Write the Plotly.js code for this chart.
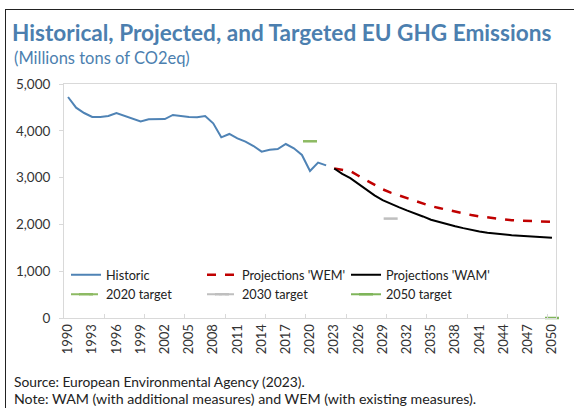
<!DOCTYPE html>
<html>
<head>
<meta charset="utf-8">
<script src="https://cdn.plot.ly/plotly-3.0.1.min.js"></script>
<style>
  html, body { margin: 0; padding: 0; background: #fff; overflow: hidden; }
  #chart { position: absolute; left: 0; top: 0; width: 574px; height: 408px; }
  #frame { position: absolute; left: 5px; top: 9px; width: 620px; height: 480px; border: 1.5px solid #222; pointer-events: none; }
</style>
</head>
<body>
<div id="chart"></div>
<div id="frame"></div>
<script>
// Category labels (years)
const years = ['1990','1991','1992','1993','1994','1995','1996','1997','1998','1999',
  '2000','2001','2002','2003','2004','2005','2006','2007','2008','2009',
  '2010','2011','2012','2013','2014','2015','2016','2017','2018','2019',
  '2020','2021','2022','2023','2024','2025','2026','2027','2028','2029',
  '2030','2031','2032','2033','2034','2035','2036','2037','2038','2039',
  '2040','2041','2042','2043','2044','2045','2046','2047','2048','2049','2050'];

// Historic emissions 1990-2022 (Mt CO2eq)
const historicYears = years.slice(0, 33);
const historic = [4722, 4494, 4380, 4295, 4295, 4316, 4380, 4320, 4270, 4202,
  4245, 4245, 4250, 4338, 4312, 4295, 4290, 4316, 4160, 3861,
  3932, 3839, 3768, 3675, 3554, 3597, 3611, 3718, 3625, 3483,
  3141, 3319, 3262];

// Projections 2023-2050
const projYears = years.slice(33);
const wem = [3195, 3165, 3140, 3040, 2940, 2840, 2750, 2680, 2620, 2560,
  2500, 2440, 2390, 2350, 2310, 2270, 2240, 2200, 2170, 2150,
  2120, 2100, 2090, 2080, 2070, 2065, 2060, 2055];
const wam = [3195, 3080, 2990, 2860, 2740, 2620, 2520, 2440, 2370, 2300,
  2240, 2170, 2100, 2050, 2000, 1960, 1920, 1880, 1850, 1820,
  1800, 1785, 1770, 1760, 1750, 1740, 1730, 1715];

// Targets
const target2020Year = ['2020'], target2020 = [3776];
const target2030Year = ['2030'], target2030 = [2124];
const target2050Year = ['2050'], target2050 = [0];

const tickYears = years.filter((y, i) => i % 3 === 0);

const FONT = 'Lato, "Open Sans", "Noto Sans", sans-serif';

function targetTrace(x, y, name, color, dash, legend) {
  return {
    x: x, y: y, name: name, type: 'scatter', mode: 'lines+markers', legend: legend, legendgroup: name,
    line: { color: color, width: 2, dash: dash },
    marker: { symbol: 'line-ew', size: 10, line: { color: color, width: 2.5 } },
    cliponaxis: false
  };
}

const traces = [
  { x: historicYears, y: historic, name: 'Historic', type: 'scatter', mode: 'lines',
    legend: 'legend', legendgroup: 'Historic', line: { color: '#4F83B5', width: 2 } },
  { x: projYears, y: wem, name: "Projections 'WEM'", type: 'scatter', mode: 'lines',
    legend: 'legend2', legendgroup: 'WEM', line: { color: '#C00000', width: 2.5, dash: 'dash' } },
  { x: projYears, y: wam, name: "Projections 'WAM'", type: 'scatter', mode: 'lines',
    legend: 'legend3', legendgroup: 'WAM', line: { color: '#000000', width: 2 } },
  targetTrace(target2020Year, target2020, '2020 target', '#8DBA63', 'dash', 'legend'),
  targetTrace(target2030Year, target2030, '2030 target', '#BFBFBF', 'dashdot', 'legend2'),
  targetTrace(target2050Year, target2050, '2050 target', '#7FB55A', 'solid', 'legend3'),
  { x: [], y: [], xaxis: 'x2', type: 'scatter', showlegend: false, hoverinfo: 'skip' }
];

const boundaryTicks = [];
for (let i = 0; i <= 12; i++) boundaryTicks.push(-0.5 + 5 * i);

function legendAt(xpx) {
  return {
    orientation: 'v', x: (xpx - 64) / 492, xanchor: 'left', y: (318 - 260) / 234, yanchor: 'top',
    font: { family: FONT, size: 12.7, color: '#222222' }, tracegroupgap: 10,
    bgcolor: 'rgba(0,0,0,0)', traceorder: 'normal'
  };
}

const layout = {
  width: 574, height: 408,
  margin: { l: 64, r: 18, t: 84, b: 90 },
  paper_bgcolor: '#ffffff', plot_bgcolor: '#ffffff',
  font: { family: FONT, color: '#333333', size: 13 },
  title: {
    text: '<b>Historical, Projected, and Targeted EU GHG Emissions</b>',
    font: { family: FONT, size: 22.6, color: '#4C7FAF' },
    x: 12 / 574, xanchor: 'left', xref: 'container',
    y: 1 - 33 / 408, yanchor: 'middle', yref: 'container'
  },
  showlegend: true,
  legend: legendAt(66),
  legend2: legendAt(202),
  legend3: legendAt(346),
  xaxis: {
    type: 'category', categoryorder: 'array', categoryarray: years,
    range: [-0.5, 60.5], tickmode: 'array', tickvals: tickYears, ticktext: tickYears,
    tickangle: -90, ticks: '', showgrid: false, zeroline: false,
    showline: true, linecolor: '#D9D9D9', linewidth: 1, mirror: true,
    tickfont: { family: FONT, size: 13, color: '#333333' }
  },
  xaxis2: {
    overlaying: 'x', anchor: 'y', side: 'bottom', type: 'linear',
    range: [-0.5, 60.5], tickmode: 'array', tickvals: boundaryTicks,
    ticks: 'inside', ticklen: 4, tickcolor: '#D9D9D9', tickwidth: 1,
    showticklabels: false, showgrid: false, zeroline: false, showline: false
  },
  yaxis: {
    range: [0, 5000], dtick: 1000, tickformat: ',', showgrid: false, zeroline: false,
    showline: true, linecolor: '#D9D9D9', linewidth: 1, mirror: true,
    ticks: 'outside', ticklen: 4, tickcolor: '#D9D9D9',
    tickfont: { family: FONT, size: 13.5, color: '#333333' }, ticklabelstandoff: 6
  },
  annotations: [
    { text: '(Millions tons of CO2eq)', xref: 'paper', yref: 'paper',
      x: (12 - 64) / 492, xanchor: 'left', y: (318 - 58) / 234, yanchor: 'middle',
      showarrow: false, font: { family: FONT, size: 16.5, color: '#4C7FAF' } },
    { text: 'Source: European Environmental Agency (2023).', xref: 'paper', yref: 'paper',
      x: (12 - 64) / 492, xanchor: 'left', y: (318 - 381) / 234, yanchor: 'middle',
      showarrow: false, font: { family: FONT, size: 13.8, color: '#222222' } },
    { text: 'Note: WAM (with additional measures) and WEM (with existing measures).', xref: 'paper', yref: 'paper',
      x: (12 - 64) / 492, xanchor: 'left', y: (318 - 398.5) / 234, yanchor: 'middle',
      showarrow: false, font: { family: FONT, size: 14.2, color: '#222222' } }
  ]
};

Plotly.newPlot('chart', traces, layout, { staticPlot: true, displayModeBar: false });
</script>
</body>
</html>
